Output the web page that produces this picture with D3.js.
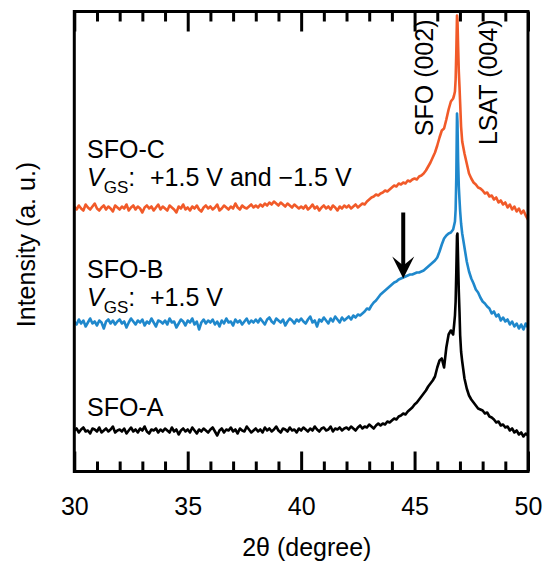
<!DOCTYPE html>
<html>
<head>
<meta charset="utf-8">
<script src="https://cdn.jsdelivr.net/npm/d3@7"></script>
<style>
  body { margin: 0; background: #fff; }
  text { font-family: "Liberation Sans", Arial, sans-serif; fill: #000; }
</style>
</head>
<body>
<svg id="chart" width="548" height="563"></svg>
<script>
// scan grid: 30.0 .. 50.0 deg, 0.1 deg step (intensity in a.u., offset per sample)
const scanStart = 30, scanStep = 0.1;

const sfoA = [
  41,43,39,42,44,40,41,38,43,42,40,44,39,41,43,40,42,45,39,41,
  42,40,43,38,41,44,40,42,39,43,41,45,40,38,42,41,43,39,42,40,
  43,41,39,44,40,42,37,41,43,40,42,39,44,41,38,42,40,43,41,39,
  42,44,40,36,41,43,39,42,41,44,40,42,38,43,41,40,45,42,39,41,
  43,40,42,39,44,41,43,40,42,45,41,39,43,42,40,44,41,42,39,43,
  41,44,42,40,43,41,45,42,40,43,44,41,42,45,40,43,42,44,41,43,
  44,42,45,43,41,44,46,43,45,44,47,45,43,46,48,46,48,47,50,49,
  51,53,52,55,56,58,57,60,62,64,67,69,72,75,78,81,85,88,91,95,
  104,111,113,104,124,137,141,137,160,238,138,110,93,83,76,72,69,66,63,62,
  61,58,59,55,54,52,49,50,46,47,44,45,41,43,39,41,37,39,35,38,
  36
];

const sfoB = [
  150,147,152,148,151,145,149,153,148,150,146,151,149,143,150,152,148,151,147,150,
  152,148,150,144,149,153,150,147,151,149,152,146,150,148,153,149,145,151,150,148,
  151,147,153,149,150,144,148,152,150,146,151,149,153,147,150,142,149,152,148,151,
  149,152,147,150,145,151,148,153,149,150,146,152,149,151,147,150,153,148,151,149,
  152,149,153,150,147,152,154,150,148,153,151,149,152,146,150,153,151,148,152,150,
  153,150,148,152,155,149,151,145,152,150,154,151,148,153,150,155,152,149,154,151,
  153,155,152,156,154,157,156,158,160,163,162,166,169,171,174,177,179,181,183,185,
  187,189,190,192,193,194,195,196,197,197,198,199,199,200,201,203,205,207,209,211,
  214,220,227,233,236,238,239,242,255,340,262,238,224,210,200,193,188,182,179,174,
  170,168,165,163,158,160,155,157,151,154,150,152,147,150,145,148,143,147,142,148,
  144
];

const sfoC = [
  265,262,266,263,261,267,264,262,265,268,263,261,264,266,262,265,263,260,266,264,
  262,265,263,267,261,264,266,262,265,263,259,264,266,263,265,261,264,267,262,265,
  263,261,266,264,262,259,265,263,267,262,264,261,265,263,266,262,260,264,266,263,
  265,262,264,267,261,263,266,264,262,265,263,268,264,262,266,264,263,265,267,264,
  266,264,267,265,268,266,269,267,270,268,266,269,267,265,268,266,264,267,265,263,
  265,263,266,262,264,267,263,265,261,264,266,263,265,262,266,264,261,265,263,266,
  264,266,263,265,267,264,266,268,267,270,272,274,275,277,276,278,279,281,280,282,
  284,286,285,288,287,289,288,291,290,292,293,292,295,296,298,301,305,309,314,319,
  326,334,341,343,352,362,370,373,385,440,372,330,318,308,298,293,289,287,284,283,
  281,278,279,275,276,272,274,269,271,267,269,264,267,262,265,260,263,258,261,256,
  252
];

// finer readings across the LSAT (004) substrate peak
const peakAngles = [46.74, 46.78, 46.81, 46.84, 46.87, 46.89, 46.92, 46.95, 46.98, 47.01, 47.05];
const peakA = [146, 156, 170, 200, 236, 238, 210, 180, 160, 136, 120];
const peakB = [246, 250, 262, 295, 358, 350, 310, 285, 272, 260, 248];
const peakC = [376, 380, 392, 420, 456, 452, 425, 400, 385, 368, 345];

const majorTicks = [30, 35, 40, 45, 50];
const minorTicks = [31, 32, 33, 34, 36, 37, 38, 39, 41, 42, 43, 44, 46, 47, 48, 49];

const svg = d3.select("#chart");
const x = d3.scaleLinear().domain([30, 50]).range([74.3, 528]);
const y = d3.scaleLinear().domain([0, 460]).range([471.5, 11.5]);
const fontSize = 25;

function build(coarse, fine) {
  const pts = coarse
    .map((v, i) => [scanStart + i * scanStep, v])
    .filter(([a]) => a < 46.72 || a > 47.07);
  fine.forEach((v, i) => pts.push([peakAngles[i], v]));
  return pts.sort((p, q) => p[0] - q[0]);
}

const series = [
  { name: "SFO-A", color: "#000000", data: build(sfoA, peakA) },
  { name: "SFO-B", color: "#1f88cc", data: build(sfoB, peakB) },
  { name: "SFO-C", color: "#f15a29", data: build(sfoC, peakC) },
];

const line = d3.line(d => x(d[0]), d => y(d[1])).curve(d3.curveLinear);

svg.append("g")
  .selectAll("path")
  .data(series)
  .join("path")
  .attr("d", d => line(d.data))
  .attr("fill", "none")
  .attr("stroke", d => d.color)
  .attr("stroke-width", 2.6)
  .attr("stroke-linejoin", "round");

// axes: inward ticks on bottom and top
function styleAxis(g) {
  g.select(".domain").remove();
  g.selectAll(".tick line").attr("stroke", "#000").attr("stroke-width", 3);
  g.selectAll("text").attr("font-size", fontSize).attr("fill", "#000")
    .style("font-family", '"Liberation Sans", Arial, sans-serif');
}

svg.append("g")
  .attr("transform", `translate(0,${y(0)})`)
  .call(d3.axisBottom(x).tickValues(majorTicks).tickSize(-20).tickPadding(26).tickFormat(d3.format("d")))
  .call(styleAxis);
svg.append("g")
  .attr("transform", `translate(0,${y(0)})`)
  .call(d3.axisBottom(x).tickValues(minorTicks).tickSize(-10).tickFormat(""))
  .call(styleAxis);
svg.append("g")
  .attr("transform", `translate(0,${y(460)})`)
  .call(d3.axisTop(x).tickValues(majorTicks).tickSize(-20).tickFormat(""))
  .call(styleAxis);
svg.append("g")
  .attr("transform", `translate(0,${y(460)})`)
  .call(d3.axisTop(x).tickValues(minorTicks).tickSize(-10).tickFormat(""))
  .call(styleAxis);

svg.append("rect")
  .attr("x", x(30)).attr("y", y(460))
  .attr("width", x(50) - x(30)).attr("height", y(0) - y(460))
  .attr("fill", "none").attr("stroke", "#000").attr("stroke-width", 3);

// axis titles
svg.append("text")
  .attr("x", x(40.25)).attr("y", 556)
  .attr("text-anchor", "middle").attr("font-size", fontSize)
  .text("2θ (degree)");

svg.append("text")
  .attr("transform", `translate(35,${y(227)}) rotate(-90)`)
  .attr("text-anchor", "middle").attr("font-size", fontSize)
  .text("Intensity (a. u.)");

// sample labels
const labels = [
  { name: "SFO-C", at: 314, gate: "+1.5 V and \u22121.5 V" },
  { name: "SFO-B", at: 194, gate: "+1.5 V" },
  { name: "SFO-A", at: 56, gate: null },
];
labels.forEach(l => {
  svg.append("text")
    .attr("x", 87).attr("y", y(l.at))
    .attr("font-size", fontSize)
    .text(l.name);
  if (l.gate) {
    const t = svg.append("text")
      .attr("x", 87).attr("y", y(l.at) + 28)
      .attr("font-size", fontSize);
    t.append("tspan").attr("font-style", "italic").text("V");
    t.append("tspan").attr("font-size", 17).attr("dy", 7).text("GS");
    t.append("tspan").attr("dy", -7).text(":");
    t.append("tspan").attr("x", 150).text(l.gate);
  }
});

// peak labels
[{ text: "SFO (002)", at: 45.83 }, { text: "LSAT (004)", at: 48.62 }].forEach(p => {
  svg.append("text")
    .attr("transform", `translate(${x(p.at)},${y(452)}) rotate(-90)`)
    .attr("text-anchor", "end").attr("font-size", fontSize)
    .text(p.text);
});

// arrow marking the broad SFO-B feature
const ax = x(44.5), aTop = y(259), aTip = y(193);
svg.append("line")
  .attr("x1", ax).attr("x2", ax).attr("y1", aTop).attr("y2", aTip - 10)
  .attr("stroke", "#000").attr("stroke-width", 4);
svg.append("path")
  .attr("d", `M${ax},${aTip} L${ax - 11},${aTip - 22} L${ax},${aTip - 13} L${ax + 11},${aTip - 22} Z`)
  .attr("fill", "#000");
</script>
</body>
</html>
